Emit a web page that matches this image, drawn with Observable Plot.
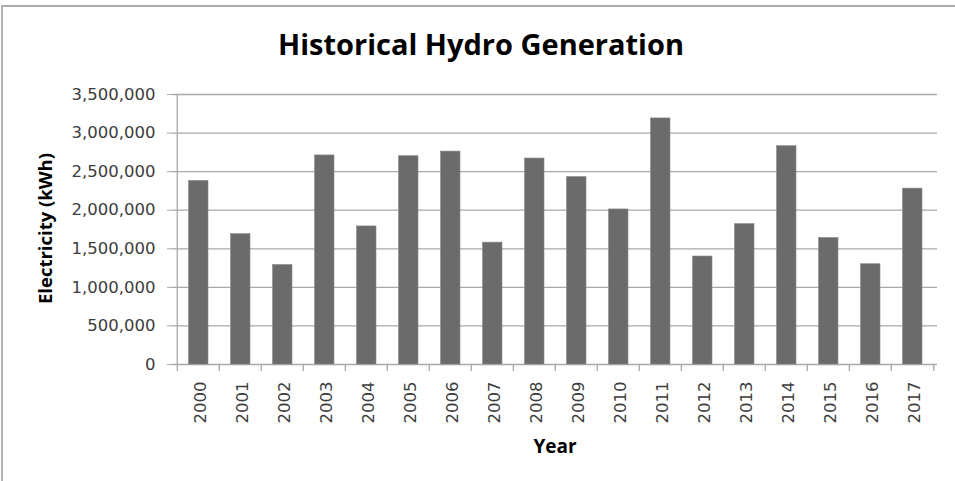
<!DOCTYPE html>
<html>
<head>
<meta charset="utf-8">
<script src="https://cdn.jsdelivr.net/npm/d3@7"></script>
<script src="https://cdn.jsdelivr.net/npm/@observablehq/plot@0.6"></script>
<style>
  html, body { margin: 0; padding: 0; background: #fff; }
  #wrap { position: relative; width: 955px; height: 481px; overflow: hidden; background: #fff; }
  #border { position: absolute; left: 1px; top: 5px; width: 980px; height: 500px;
            border-top: 2px solid #ababab; border-left: 2px solid #b5b5b5; }
  #title { position: absolute; left: 0; top: 0; width: 962px; height: 60px; text-align: center;
           font-family: "Open Sans", sans-serif; font-weight: 700; font-size: 29px;
           line-height: 29px; padding-top: 29px; box-sizing: border-box; color: #000; }
  #chart { position: absolute; left: 0; top: 60px; }
</style>
</head>
<body>
<div id="wrap">
  <div id="border"></div>
  <div id="title">Historical Hydro Generation</div>
  <div id="chart"></div>
</div>
<script>
const years = ["2000","2001","2002","2003","2004","2005","2006","2007","2008",
               "2009","2010","2011","2012","2013","2014","2015","2016","2017"];
const generation = [2380000, 1690000, 1290000, 2710000, 1790000, 2700000, 2760000, 1580000, 2670000,
                    2430000, 2010000, 3190000, 1400000, 1820000, 2830000, 1640000, 1300000, 2280000];
const yTicks = [0, 500000, 1000000, 1500000, 2000000, 2500000, 3000000, 3500000];
const yLabel = "Electricity (kWh)";
const xLabel = "Year";

const data = years.map((y, i) => ({year: y, value: generation[i]}));

const W = 955, H = 421;
const mL = 172, mR = 18, mT = 34, mB = 117;
const bw = (W - mL - mR) / years.length;
const gridColor = "#a9a9a9";

const plot = Plot.plot({
  width: W,
  height: H,
  marginLeft: mL,
  marginRight: mR,
  marginTop: mT,
  marginBottom: mB,
  style: {background: "transparent", overflow: "visible", fontFamily: "DejaVu Sans", fontSize: "16px"},
  x: {type: "band", domain: years, padding: 0, label: null},
  y: {domain: [0, 3500000], label: null},
  marks: [
    Plot.ruleY(yTicks, {stroke: gridColor, strokeWidth: 1.3}),
    Plot.rectY(data, {x: "year", y: "value", fill: "#6b6b6b", stroke: "#8a8a8a", strokeWidth: 0.6,
                      insetLeft: 11.5, insetRight: 11}),
    Plot.ruleX([years[0]], {x: d => d, y1: 0, y2: 3500000, dx: -bw / 2, stroke: gridColor, strokeWidth: 1.3}),
    Plot.ruleX(years, {x: d => d, y1: 0, y2: 0, dx: -bw / 2, insetBottom: -7, stroke: gridColor, strokeWidth: 1.3}),
    Plot.ruleX([years[years.length - 1]], {x: d => d, y1: 0, y2: 0, dx: bw / 2, insetBottom: -7, stroke: gridColor, strokeWidth: 1.3}),
    Plot.axisY({ticks: yTicks, tickSize: 5, tickPadding: 12, tickFormat: d3.format(","),
                stroke: gridColor, fill: "#3c3c3c", fontSize: 16.5,
                fontFamily: "DejaVu Sans", label: null}),
    Plot.axisX({tickSize: 0, tickPadding: 17, tickRotate: -90, fill: "#3c3c3c", fontSize: 16.5,
                fontFamily: "DejaVu Sans", dx: 2, label: null}),
    Plot.text([yLabel], {text: d => d, frameAnchor: "left", textAnchor: "middle", dx: -126, dy: -1, rotate: -90,
                         fontFamily: "Open Sans", fontWeight: "bold", fontSize: 18.5, fill: "#000"}),
    Plot.text([xLabel], {text: d => d, frameAnchor: "bottom", dy: 88,
                         fontFamily: "Open Sans", fontWeight: "bold", fontSize: 19, fill: "#000"})
  ]
});
document.getElementById("chart").appendChild(plot);
</script>
</body>
</html>
